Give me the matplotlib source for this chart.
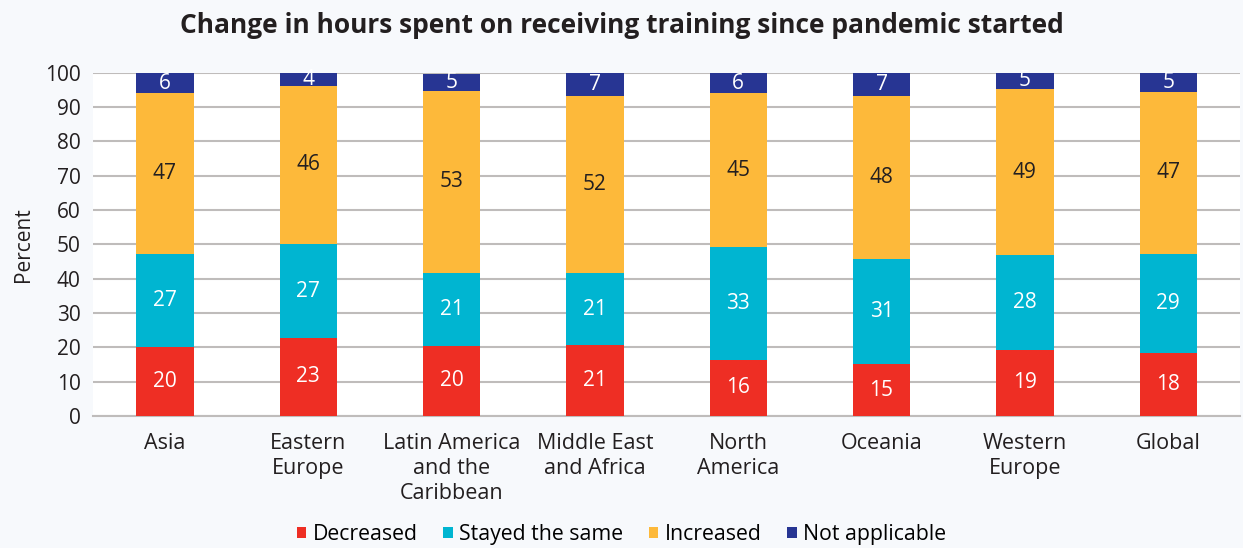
import numpy as np
import matplotlib
matplotlib.use("Agg")
import matplotlib.pyplot as plt

plt.rcParams['font.family'] = ['Open Sans', 'DejaVu Sans']

regions = ["Asia", "Eastern\nEurope", "Latin America\nand the\nCaribbean", "Middle East\nand Africa",
           "North\nAmerica", "Oceania", "Western\nEurope", "Global"]
series = ["Decreased", "Stayed the same", "Increased", "Not applicable"]
decreased = [20.0, 22.8, 20.4, 20.6, 16.4, 15.0, 19.2, 18.4]
stayed = [27.2, 27.2, 21.2, 21.0, 32.8, 30.7, 27.6, 28.8]
increased = [46.9, 46.3, 53.2, 51.8, 44.8, 47.7, 48.6, 47.3]
not_applicable = [5.9, 3.7, 5.0, 6.6, 6.0, 6.6, 4.6, 5.4]
colors = ["#ee2e24", "#00b5d1", "#fdb93a", "#273593"]
text_colors = ["white", "white", "#231f20", "white"]

fig = plt.figure(figsize=(12.43, 5.48), dpi=100, facecolor="#f7f9fc")
ax = fig.add_axes([0.075, 0.241, 0.9225, 0.626])
ax.set_facecolor("white")

x = np.arange(len(regions))
bottom = np.zeros(len(regions))
for name, vals, c, tc in zip(series, [decreased, stayed, increased, not_applicable], colors, text_colors):
    vals = np.array(vals)
    ax.bar(x, vals, 0.4, bottom=bottom, color=c, label=name, zorder=3)
    for xi, b, v in zip(x, bottom, vals):
        ax.text(xi, b + v / 2, f"{v:.0f}", ha="center", va="center", color=tc, fontsize=15, zorder=4)
    bottom += vals

ax.set_xlim(-0.5, len(regions) - 0.5)
ax.set_ylim(0, 100)
ax.set_yticks(range(0, 101, 10))
ax.yaxis.grid(True, color="#bfbcbb", linewidth=1.5, zorder=0)
for s in ["top", "right", "left"]:
    ax.spines[s].set_visible(False)
ax.spines["bottom"].set_color("#bfbcbb")
ax.spines["bottom"].set_linewidth(1.5)
ax.set_xticks(x)
ax.set_xticklabels(regions, fontsize=15.5, color="#231f20", linespacing=1.25, va="top")
ax.tick_params(axis="both", length=0, labelsize=15, colors="#231f20")
ax.tick_params(axis="x", pad=12, labelsize=15.5)
ax.tick_params(axis="y", pad=9)
ax.set_ylabel("Percent", fontsize=15, color="#231f20", labelpad=8)

fig.suptitle("Change in hours spent on receiving training since pandemic started",
             fontsize=19, fontweight="bold", color="#231f20", y=0.978)
fig.legend(loc="lower center", ncol=4, frameon=False, fontsize=15.3, bbox_to_anchor=(0.5, -0.03),
           handlelength=0.45, handleheight=0.45, handletextpad=0.3, columnspacing=1.2)

fig.savefig("out.png", dpi=100, facecolor=fig.get_facecolor())
